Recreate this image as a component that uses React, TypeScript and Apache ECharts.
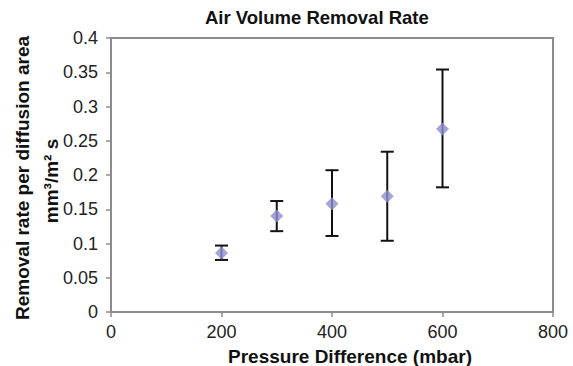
import React, { useEffect, useRef } from "react";
import * as echarts from "echarts";

const pressures = [200, 300, 400, 500, 600];
const rates = [0.086, 0.14, 0.158, 0.169, 0.267];
const upper = [0.097, 0.162, 0.207, 0.234, 0.354];
const lower = [0.076, 0.118, 0.111, 0.104, 0.182];

const titleText = "Air Volume Removal Rate";
const xName = "Pressure Difference (mbar)";
const yNameLine1 = "Removal rate per diffusion area";
const yNameLine2 = "mm³/m² s";

const FONT = "'Liberation Sans', Arial, Helvetica, sans-serif";

export default function App() {
  const ref = useRef<HTMLDivElement>(null);
  useEffect(() => {
    if (!ref.current) return;
    const chart = echarts.init(ref.current, undefined, { renderer: "svg" });
    const errData = pressures.map((p, i) => [p, lower[i], upper[i]]);
    const option: any = {
      animation: false,
      backgroundColor: "#ffffff",
      title: {
        text: titleText,
        left: 200,
        top: 3,
        textStyle: { fontFamily: FONT, fontSize: 18.5, fontWeight: "bold", color: "#111" },
      },
      grid: {
        left: 111,
        right: 20,
        top: 38,
        bottom: 54,
        show: true,
        borderColor: "#8c8c8c",
        borderWidth: 2,
        containLabel: false,
        outerBoundsMode: "none",
      },
      graphic: [
        {
          type: "text",
          x: 22,
          y: 178,
          rotation: Math.PI / 2,
          style: {
            text: yNameLine1,
            fontFamily: FONT,
            fontSize: 19,
            fontWeight: "bold",
            fill: "#111",
            align: "center",
            verticalAlign: "middle",
          },
        },
        {
          type: "text",
          x: 51,
          y: 181,
          rotation: Math.PI / 2,
          style: {
            text: yNameLine2,
            fontFamily: FONT,
            fontSize: 19,
            fontWeight: "bold",
            fill: "#111",
            align: "center",
            verticalAlign: "middle",
          },
        },
      ],
      xAxis: {
        type: "value",
        min: 0,
        max: 800,
        interval: 200,
        name: xName,
        nameLocation: "middle",
        nameGap: 35,
        nameTextStyle: {
          fontFamily: FONT,
          fontSize: 19,
          fontWeight: "bold",
          color: "#111",
          padding: [0, 0, 0, 36],
        },
        axisLine: { show: true, lineStyle: { color: "#8c8c8c", width: 2 } },
        axisTick: { show: true, inside: false, length: 5, lineStyle: { color: "#8c8c8c", width: 1.5 } },
        axisLabel: { fontFamily: FONT, fontSize: 18, color: "#222", margin: 11 },
        splitLine: { show: false },
      },
      yAxis: {
        type: "value",
        min: 0,
        max: 0.4,
        interval: 0.05,
        axisLine: { show: true, lineStyle: { color: "#8c8c8c", width: 2 } },
        axisTick: { show: true, inside: false, length: 5, lineStyle: { color: "#8c8c8c", width: 1.5 } },
        axisLabel: { fontFamily: FONT, fontSize: 18, color: "#222", margin: 13 },
        splitLine: { show: false },
      },
      series: [
        {
          type: "custom",
          name: "error",
          data: errData,
          z: 2,
          renderItem: (params: any, api: any) => {
            const x = api.value(0);
            const lo = api.coord([x, api.value(1)]);
            const hi = api.coord([x, api.value(2)]);
            const hw = 6.5;
            const style = { stroke: "#111", lineWidth: 2 };
            return {
              type: "group",
              children: [
                { type: "line", shape: { x1: lo[0], y1: lo[1], x2: hi[0], y2: hi[1] }, style },
                { type: "line", shape: { x1: hi[0] - hw, y1: hi[1], x2: hi[0] + hw, y2: hi[1] }, style },
                { type: "line", shape: { x1: lo[0] - hw, y1: lo[1], x2: lo[0] + hw, y2: lo[1] }, style },
              ],
            };
          },
        },
        {
          type: "scatter",
          name: "rate",
          data: pressures.map((p, i) => [p, rates[i]]),
          symbol: "diamond",
          symbolSize: [13, 13],
          itemStyle: { color: "#8f8fd2" },
          z: 3,
        },
      ],
    };
    chart.setOption(option);
    return () => chart.dispose();
  }, []);
  return (
    <div
      ref={ref}
      style={{ position: "fixed", left: 0, top: 0, width: 573, height: 366, background: "#fff" }}
    />
  );
}
